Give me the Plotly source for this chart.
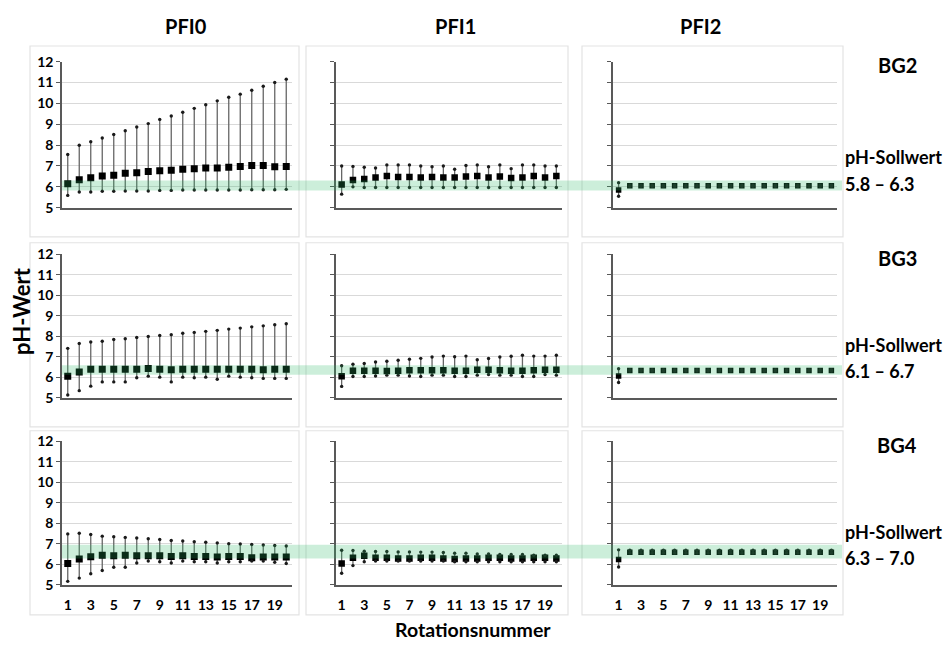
import plotly.graph_objects as go

W, H = 949, 654

rotations = list(range(1, 21))
x_tick_vals = [1, 3, 5, 7, 9, 11, 13, 15, 17, 19]
y_tick_vals = [5, 6, 7, 8, 9, 10, 11, 12]

col_titles = ["PFI0", "PFI1", "PFI2"]
row_titles = ["BG2", "BG3", "BG4"]
target_labels = ["5.8 – 6.3", "6.1 – 6.7", "6.3 – 7.0"]
band_low = [5.82, 6.12, 6.28]
band_high = [6.30, 6.58, 6.95]

# ---- BG2 ----
bg2_pfi0_mean = [6.15, 6.34, 6.43, 6.52, 6.56, 6.65, 6.68, 6.74, 6.77, 6.79,
                 6.84, 6.87, 6.90, 6.90, 6.94, 6.97, 7.02, 7.02, 6.96, 6.97]
bg2_pfi0_max = [7.55, 7.99, 8.16, 8.34, 8.51, 8.69, 8.87, 9.03, 9.23, 9.39,
                9.57, 9.76, 9.93, 10.12, 10.29, 10.44, 10.63, 10.82, 11.00, 11.16]
bg2_pfi0_min = [5.59, 5.75, 5.75, 5.79, 5.79, 5.80, 5.80, 5.80, 5.83, 5.83,
                5.85, 5.85, 5.85, 5.85, 5.85, 5.85, 5.86, 5.86, 5.86, 5.88]

bg2_pfi1_mean = [6.11, 6.33, 6.38, 6.45, 6.52, 6.47, 6.47, 6.45, 6.47, 6.45,
                 6.45, 6.50, 6.52, 6.45, 6.50, 6.42, 6.45, 6.52, 6.45, 6.52]
bg2_pfi1_max = [7.00, 6.98, 6.94, 6.90, 7.05, 7.05, 7.05, 7.00, 6.96, 7.00,
                6.84, 7.02, 7.05, 6.96, 7.05, 6.87, 7.05, 7.05, 7.00, 7.00]
bg2_pfi1_min = [5.65, 6.00, 5.97, 5.97, 5.97, 5.97, 5.97, 5.97, 5.97, 5.97,
                5.97, 5.97, 5.97, 5.97, 5.97, 5.97, 5.97, 5.97, 5.97, 5.97]

bg2_pfi2_mean = [5.85, 6.05, 6.05, 6.05, 6.05, 6.05, 6.05, 6.05, 6.05, 6.05,
                 6.05, 6.05, 6.05, 6.05, 6.05, 6.05, 6.05, 6.05, 6.05, 6.05]
bg2_pfi2_max = [6.20, 6.08, 6.08, 6.08, 6.08, 6.08, 6.08, 6.08, 6.08, 6.08,
                6.08, 6.08, 6.08, 6.08, 6.08, 6.08, 6.08, 6.08, 6.08, 6.08]
bg2_pfi2_min = [5.55, 6.02, 6.02, 6.02, 6.02, 6.02, 6.02, 6.02, 6.02, 6.02,
                6.02, 6.02, 6.02, 6.02, 6.02, 6.02, 6.02, 6.02, 6.02, 6.02]

# ---- BG3 ----
bg3_pfi0_mean = [6.04, 6.25, 6.39, 6.39, 6.39, 6.39, 6.39, 6.42, 6.39, 6.36,
                 6.39, 6.39, 6.39, 6.39, 6.39, 6.39, 6.39, 6.36, 6.39, 6.39]
bg3_pfi0_max = [7.41, 7.65, 7.72, 7.76, 7.84, 7.88, 7.94, 7.99, 8.04, 8.08,
                8.15, 8.19, 8.24, 8.29, 8.35, 8.40, 8.46, 8.51, 8.56, 8.61]
bg3_pfi0_min = [5.13, 5.34, 5.56, 5.77, 5.77, 5.77, 5.97, 6.05, 6.00, 5.77,
                6.00, 5.97, 6.00, 5.90, 6.05, 6.00, 5.97, 5.94, 5.94, 5.94]

bg3_pfi1_mean = [6.05, 6.31, 6.31, 6.31, 6.30, 6.31, 6.34, 6.34, 6.34, 6.34,
                 6.31, 6.31, 6.36, 6.36, 6.34, 6.31, 6.31, 6.34, 6.36, 6.36]
bg3_pfi1_max = [6.56, 6.63, 6.67, 6.74, 6.78, 6.83, 6.88, 6.92, 6.99, 7.03,
                7.00, 7.03, 6.85, 6.91, 6.99, 7.02, 7.07, 7.03, 7.03, 7.07]
bg3_pfi1_min = [5.55, 6.03, 6.03, 6.06, 6.10, 6.10, 6.06, 6.03, 6.10, 6.10,
                6.03, 6.03, 6.10, 6.13, 6.10, 6.10, 6.03, 6.03, 6.13, 6.10]

bg3_pfi2_mean = [6.06, 6.33, 6.33, 6.33, 6.33, 6.33, 6.33, 6.33, 6.33, 6.33,
                 6.33, 6.33, 6.33, 6.33, 6.33, 6.33, 6.33, 6.33, 6.33, 6.33]
bg3_pfi2_max = [6.41, 6.36, 6.36, 6.36, 6.36, 6.36, 6.36, 6.36, 6.36, 6.36,
                6.36, 6.36, 6.36, 6.36, 6.36, 6.36, 6.36, 6.36, 6.36, 6.36]
bg3_pfi2_min = [5.74, 6.30, 6.30, 6.30, 6.30, 6.30, 6.30, 6.30, 6.30, 6.30,
                6.30, 6.30, 6.30, 6.30, 6.30, 6.30, 6.30, 6.30, 6.30, 6.30]

# ---- BG4 ----
bg4_pfi0_mean = [6.03, 6.25, 6.36, 6.44, 6.41, 6.44, 6.41, 6.41, 6.41, 6.38,
                 6.41, 6.38, 6.38, 6.35, 6.38, 6.38, 6.31, 6.35, 6.35, 6.35]
bg4_pfi0_max = [7.48, 7.51, 7.45, 7.37, 7.34, 7.31, 7.28, 7.24, 7.21, 7.16,
                7.13, 7.10, 7.07, 7.04, 7.00, 6.99, 6.96, 6.94, 6.91, 6.89]
bg4_pfi0_min = [5.16, 5.32, 5.53, 5.69, 5.85, 5.85, 6.06, 6.15, 6.12, 6.06,
                6.15, 6.12, 6.12, 6.06, 6.12, 6.12, 6.15, 6.15, 6.09, 6.03]

bg4_pfi1_mean = [6.03, 6.31, 6.41, 6.31, 6.31, 6.28, 6.28, 6.31, 6.31, 6.28,
                 6.25, 6.28, 6.28, 6.31, 6.31, 6.28, 6.28, 6.31, 6.31, 6.28]
bg4_pfi1_max = [6.68, 6.67, 6.63, 6.62, 6.62, 6.60, 6.60, 6.59, 6.59, 6.57,
                6.54, 6.54, 6.50, 6.50, 6.47, 6.47, 6.47, 6.44, 6.44, 6.44]
bg4_pfi1_min = [5.56, 5.93, 6.12, 6.15, 6.15, 6.15, 6.15, 6.15, 6.15, 6.15,
                6.12, 6.12, 6.12, 6.12, 6.12, 6.12, 6.12, 6.12, 6.12, 6.12]

bg4_pfi2_mean = [6.23, 6.58, 6.58, 6.58, 6.58, 6.58, 6.58, 6.58, 6.58, 6.58,
                 6.58, 6.58, 6.58, 6.58, 6.58, 6.58, 6.58, 6.58, 6.58, 6.58]
bg4_pfi2_max = [6.70, 6.68, 6.68, 6.68, 6.68, 6.68, 6.68, 6.68, 6.68, 6.68,
                6.68, 6.68, 6.68, 6.68, 6.68, 6.68, 6.68, 6.68, 6.68, 6.68]
bg4_pfi2_min = [5.86, 6.55, 6.55, 6.55, 6.55, 6.55, 6.55, 6.55, 6.55, 6.55,
                6.55, 6.55, 6.55, 6.55, 6.55, 6.55, 6.55, 6.55, 6.55, 6.55]

series = [
    [(bg2_pfi0_mean, bg2_pfi0_max, bg2_pfi0_min),
     (bg2_pfi1_mean, bg2_pfi1_max, bg2_pfi1_min),
     (bg2_pfi2_mean, bg2_pfi2_max, bg2_pfi2_min)],
    [(bg3_pfi0_mean, bg3_pfi0_max, bg3_pfi0_min),
     (bg3_pfi1_mean, bg3_pfi1_max, bg3_pfi1_min),
     (bg3_pfi2_mean, bg3_pfi2_max, bg3_pfi2_min)],
    [(bg4_pfi0_mean, bg4_pfi0_max, bg4_pfi0_min),
     (bg4_pfi1_mean, bg4_pfi1_max, bg4_pfi1_min),
     (bg4_pfi2_mean, bg4_pfi2_max, bg4_pfi2_min)],
]

# ---- layout geometry (pixels) ----
col_px = [(62, 292), (336, 562), (613, 837)]
row_px = [(54, 204), (252, 399), (444, 591)]
frame_cols = [(30, 299), (306, 568), (582, 843)]
frame_rows = [(38, 234), (240, 429), (433, 622)]
marker_sizes = [7, 6.5, 5.5]

FONT = "Lato"
AX_COLOR = "#595959"
GRID = "#d9d9d9"

fig = go.Figure()
layout = dict(
    width=W, height=H, autosize=False,
    margin=dict(l=0, r=0, t=0, b=0),
    paper_bgcolor="white", plot_bgcolor="white",
    showlegend=False,
    font=dict(family=FONT, color="#000000"),
)

shapes = []
annotations = []

def px_x(p):
    return p / W

def px_y(p):
    return 1 - p / H

for r in range(3):
    for c in range(3):
        n = r * 3 + c + 1
        xa = "xaxis" if n == 1 else f"xaxis{n}"
        ya = "yaxis" if n == 1 else f"yaxis{n}"
        xr = "x" if n == 1 else f"x{n}"
        yr = "y" if n == 1 else f"y{n}"
        layout[xa] = dict(
            domain=[px_x(col_px[c][0]), px_x(col_px[c][1])],
            anchor=yr, range=[0.5, 20.5],
            showgrid=False, zeroline=False,
            showline=True, linecolor=AX_COLOR, linewidth=1.6,
            tickvals=x_tick_vals, ticktext=[str(v) for v in x_tick_vals],
            showticklabels=(r == 2),
            ticks="outside", ticklen=7, tickcolor="rgba(0,0,0,0)",
            tickfont=dict(family=FONT, size=14, color="#000000", weight="bold"),
        )
        layout[ya] = dict(
            domain=[px_y(row_px[r][1]), px_y(row_px[r][0])],
            anchor=xr, range=[5, 12], tickvals=y_tick_vals,
            showgrid=True, gridcolor=GRID, gridwidth=1.3, zeroline=False,
            showline=True, linecolor=AX_COLOR, linewidth=1.6,
            ticks="outside", ticklen=4, tickcolor=AX_COLOR,
            showticklabels=(c == 0),
            tickfont=dict(family=FONT, size=14, color="#000000", weight="bold"),
        )
        mean, mx, mn = series[r][c]
        fig.add_trace(go.Scatter(
            x=rotations, y=mean, mode="markers", xaxis=xr, yaxis=yr,
            marker=dict(symbol="square", size=marker_sizes[c], color="#000000"),
            error_y=dict(type="data", symmetric=False,
                         array=[a - b for a, b in zip(mx, mean)],
                         arrayminus=[b - a for a, b in zip(mn, mean)],
                         color="#666666", thickness=1.3, width=0),
        ))
        fig.add_trace(go.Scatter(
            x=rotations + rotations, y=list(mx) + list(mn), mode="markers",
            xaxis=xr, yaxis=yr,
            marker=dict(symbol="circle", size=3.4, color="#1a1a1a"),
        ))
        shapes.append(dict(
            type="rect", xref="paper", yref="paper", layer="below",
            x0=px_x(frame_cols[c][0]), x1=px_x(frame_cols[c][1]),
            y0=px_y(frame_rows[r][1]), y1=px_y(frame_rows[r][0]),
            line=dict(color="#e3e3e3", width=1.2), fillcolor="rgba(0,0,0,0)",
        ))
    yref = "y" if r == 0 else f"y{r * 3 + 1}"
    shapes.append(dict(
        type="rect", xref="paper", yref=yref, layer="above",
        x0=px_x(col_px[0][0]), x1=px_x(842),
        y0=band_low[r], y1=band_high[r],
        line=dict(width=0), fillcolor="rgba(40,185,100,0.24)",
    ))
    annotations.append(dict(
        text=f"<b>{row_titles[r]}</b>", xref="paper", yref="paper",
        x=px_x(897), y=px_y(row_px[r][0] + 4), xanchor="center", yanchor="middle",
        showarrow=False, font=dict(family=FONT, size=20, color="#000000"),
    ))
    annotations.append(dict(
        text="<b>pH-Sollwert</b>", xref="paper", yref="paper",
        x=px_x(843), y=px_y(row_px[r][0] + 98 if r == 0 else row_px[r][0] + 93),
        xanchor="left", yanchor="middle",
        showarrow=False, font=dict(family=FONT, size=18, color="#000000"),
    ))
    annotations.append(dict(
        text=f"<b>{target_labels[r]}</b>", xref="paper", yref="paper",
        x=px_x(843), y=px_y(row_px[r][0] + 126 if r == 0 else row_px[r][0] + 120),
        xanchor="left", yanchor="middle",
        showarrow=False, font=dict(family=FONT, size=18, color="#000000"),
    ))

for c in range(3):
    annotations.append(dict(
        text=f"<b>{col_titles[c]}</b>", xref="paper", yref="paper",
        x=px_x([186, 455, 700][c]), y=px_y(17), xanchor="center", yanchor="middle",
        showarrow=False, font=dict(family=FONT, size=20, color="#000000"),
    ))

annotations.append(dict(
    text="<b>pH-Wert</b>", xref="paper", yref="paper",
    x=px_x(22), y=px_y(310), xanchor="center", yanchor="middle", textangle=-90,
    showarrow=False, font=dict(family=FONT, size=22, color="#000000"),
))
annotations.append(dict(
    text="<b>Rotationsnummer</b>", xref="paper", yref="paper",
    x=px_x(473), y=px_y(637), xanchor="center", yanchor="middle",
    showarrow=False, font=dict(family=FONT, size=19.5, color="#000000"),
))

layout["shapes"] = shapes
layout["annotations"] = annotations
fig.update_layout(**layout)
fig.write_html(
    "out.html",
    config={"displayModeBar": False},
    post_script="document.body.style.margin='0';document.documentElement.style.overflow='hidden';",
)
